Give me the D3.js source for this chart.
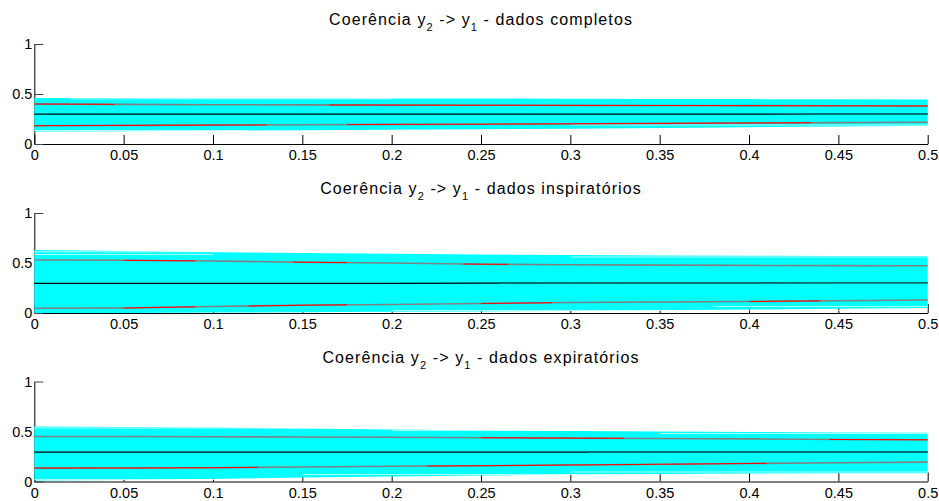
<!DOCTYPE html>
<html>
<head>
<meta charset="utf-8">
<script src="https://cdn.jsdelivr.net/npm/d3@7"></script>
<style>
  body { margin: 0; background: #fff; }
  svg { display: block; }
  text { font-family: "Liberation Sans", Arial, Helvetica, sans-serif; fill: #000; }
</style>
</head>
<body>
<svg id="chart" width="939" height="501"></svg>
<script>
// Normalised frequency grid
const freq = [0, 0.05, 0.1, 0.15, 0.2, 0.25, 0.3, 0.35, 0.4, 0.45, 0.5];

const xTicks = [0, 0.05, 0.1, 0.15, 0.2, 0.25, 0.3, 0.35, 0.4, 0.45, 0.5];
const xTickLabels = ["0", "0.05", "0.1", "0.15", "0.2", "0.25", "0.3", "0.35", "0.4", "0.45", "0.5"];
const yTicks = [0, 0.5, 1];
const yTickLabels = ["0", "0.5", "1"];

const titleSuffix = ["dados completos", "dados inspiratórios", "dados expiratórios"];

// --- complete data: envelope of bootstrap curves, percentile bounds, mean
const bandTop1 = [0.460, 0.460, 0.458, 0.457, 0.456, 0.455, 0.453, 0.451, 0.449, 0.447, 0.446];
const bandBot1 = [0.125, 0.128, 0.132, 0.137, 0.142, 0.147, 0.153, 0.160, 0.168, 0.175, 0.182];
const upper1   = [0.400, 0.396, 0.393, 0.391, 0.389, 0.388, 0.386, 0.385, 0.384, 0.382, 0.380];
const mean1    = [0.298, 0.298, 0.298, 0.298, 0.298, 0.298, 0.298, 0.298, 0.299, 0.300, 0.300];
const lower1   = [0.183, 0.186, 0.189, 0.192, 0.196, 0.198, 0.202, 0.206, 0.210, 0.214, 0.217];
// frequency intervals where the bounds are flagged (drawn red)
const redUp1 = [[0, 0.045], [0.165, 0.5]];
const redLo1 = [[0, 0.13], [0.175, 0.435]];
const teal1  = [[0.435, 0.5]];

// --- inspiratory data
const bandTop2 = [0.630, 0.620, 0.610, 0.600, 0.592, 0.585, 0.580, 0.576, 0.573, 0.571, 0.570];
const bandBot2 = [0.000, 0.000, 0.004, 0.008, 0.012, 0.015, 0.020, 0.027, 0.035, 0.043, 0.050];
const upper2   = [0.530, 0.527, 0.520, 0.508, 0.500, 0.488, 0.482, 0.479, 0.476, 0.474, 0.473];
const mean2    = [0.297, 0.297, 0.297, 0.297, 0.297, 0.298, 0.300, 0.301, 0.302, 0.303, 0.303];
const lower2   = [0.047, 0.050, 0.065, 0.078, 0.085, 0.095, 0.105, 0.110, 0.115, 0.123, 0.130];
const redUp2 = [[0.05, 0.09], [0.145, 0.175], [0.24, 0.265]];
const redLo2 = [[0.05, 0.09], [0.12, 0.175], [0.25, 0.29], [0.40, 0.44]];
const teal2  = [[0.26, 0.5]];

// --- expiratory data
const bandTop3 = [0.550, 0.545, 0.540, 0.530, 0.520, 0.512, 0.505, 0.500, 0.495, 0.490, 0.487];
const bandBot3 = [0.010, 0.015, 0.025, 0.040, 0.050, 0.060, 0.070, 0.075, 0.080, 0.082, 0.083];
const upper3   = [0.450, 0.450, 0.448, 0.445, 0.442, 0.438, 0.434, 0.430, 0.426, 0.420, 0.417];
const mean3    = [0.294, 0.294, 0.294, 0.294, 0.294, 0.294, 0.294, 0.294, 0.294, 0.294, 0.294];
const lower3   = [0.134, 0.135, 0.138, 0.145, 0.152, 0.158, 0.165, 0.172, 0.180, 0.188, 0.194];
const redUp3 = [[0.25, 0.33], [0.445, 0.5]];
const redLo3 = [[0, 0.125], [0.22, 0.41]];
const teal3  = [[0.31, 0.5]];

// gaps between individual resampled curves near the band edges (freq from, freq to, level)
const gaps1 = [[0, 0.12, 0.135], [0.02, 0.2, 0.452], [0.3, 0.5, 0.19]];
const gaps2 = [[0, 0.17, 0.612], [0.0, 0.1, 0.585], [0.2, 0.5, 0.025], [0.38, 0.5, 0.065], [0.3, 0.5, 0.56]];
const gaps3 = [[0, 0.2, 0.535], [0, 0.15, 0.02], [0.15, 0.35, 0.07], [0.3, 0.5, 0.095], [0.2, 0.45, 0.51], [0.35, 0.5, 0.48]];

const panels = [
  { top: bandTop1, bot: bandBot1, upper: upper1, mean: mean1, lower: lower1, redUp: redUp1, redLo: redLo1, teal: teal1, gaps: gaps1 },
  { top: bandTop2, bot: bandBot2, upper: upper2, mean: mean2, lower: lower2, redUp: redUp2, redLo: redLo2, teal: teal2, gaps: gaps2 },
  { top: bandTop3, bot: bandBot3, upper: upper3, mean: mean3, lower: lower3, redUp: redUp3, redLo: redLo3, teal: teal3, gaps: gaps3 }
];

const svg = d3.select("#chart");
const left = 34.3, right = 927.7, plotH = 100;
const panelTop = [44, 213, 381.5];
const tickLen = 9;

const x = d3.scaleLinear().domain([0, 0.5]).range([left, right]);
const defs = svg.append("defs");

panels.forEach((p, i) => {
  const top = panelTop[i];
  const y = d3.scaleLinear().domain([0, 1]).range([top + plotH, top]);
  const g = svg.append("g");

  // axes lie beneath the data
  const xAxis = d3.axisBottom(x).tickValues(xTicks)
    .tickFormat((d, k) => xTickLabels[k]).tickSizeInner(-tickLen).tickSizeOuter(0).tickPadding(12);
  const gx = g.append("g").attr("transform", `translate(0,${top + plotH})`).call(xAxis);
  gx.select(".domain").attr("stroke", "#000");
  gx.selectAll(".tick line").attr("stroke", "#000");
  gx.selectAll(".tick text").attr("font-size", 14.5).attr("dy", "0.3em");

  const yAxis = d3.axisLeft(y).tickValues(yTicks)
    .tickFormat((d, k) => yTickLabels[k]).tickSizeInner(-tickLen).tickSizeOuter(0).tickPadding(12);
  const gy = g.append("g").attr("transform", `translate(${left},0)`).call(yAxis);
  gy.select(".domain").attr("stroke", "#000");
  gy.selectAll(".tick line").attr("stroke", "#444");
  gy.selectAll(".tick text").attr("font-size", 14.5).attr("x", -2);

  // cyan envelope of the resampled coherence curves
  const area = d3.area().x((d, k) => x(freq[k])).y0((d, k) => y(p.bot[k])).y1(d => y(d));
  g.append("path").attr("d", area(p.top)).attr("fill", "#00ffff");

  // thin gaps between neighbouring curves
  g.selectAll(".gap").data(p.gaps).join("line")
    .attr("x1", d => x(d[0])).attr("x2", d => x(d[1]))
    .attr("y1", d => y(d[2])).attr("y2", d => y(d[2]))
    .attr("stroke", "#ffffff").attr("stroke-width", 0.8).attr("stroke-opacity", 0.85);

  const line = d3.line().x((d, k) => x(freq[k])).y(d => y(d));

  // clip helper: only keep the given frequency intervals
  const clipFor = (name, intervals) => {
    const id = `clip-${name}-${i}`;
    defs.append("clipPath").attr("id", id).selectAll("rect").data(intervals).join("rect")
      .attr("x", d => x(d[0])).attr("width", d => x(d[1]) - x(d[0]))
      .attr("y", top - 5).attr("height", plotH + 10);
    return `url(#${id})`;
  };

  // percentile bounds in grey, flagged stretches in red
  g.append("path").attr("d", line(p.upper)).attr("fill", "none").attr("stroke", "#808080").attr("stroke-width", 1.6);
  g.append("path").attr("d", line(p.lower)).attr("fill", "none").attr("stroke", "#808080").attr("stroke-width", 1.6);
  g.append("path").attr("d", line(p.upper)).attr("fill", "none").attr("stroke", "#ff0000").attr("stroke-width", 1)
    .attr("clip-path", clipFor("up", p.redUp));
  g.append("path").attr("d", line(p.lower)).attr("fill", "none").attr("stroke", "#ff0000").attr("stroke-width", 1)
    .attr("clip-path", clipFor("lo", p.redLo));

  // mean curve
  g.append("path").attr("d", line(p.mean)).attr("fill", "none").attr("stroke", "#000").attr("stroke-width", 1.2);
  g.append("path").attr("d", line(p.mean)).attr("fill", "none").attr("stroke", "#0a6e6e").attr("stroke-width", 1.6)
    .attr("clip-path", clipFor("mean", p.teal));

  // title with subscripts
  const t = svg.append("text").attr("x", (left + right) / 2).attr("y", top - 19)
    .attr("text-anchor", "middle").attr("font-size", 16).attr("letter-spacing", 1.1);
  t.append("tspan").text("Coerência y");
  t.append("tspan").attr("font-size", 11).attr("dy", 6).text("2");
  t.append("tspan").attr("dy", -6).text(" -> y");
  t.append("tspan").attr("font-size", 11).attr("dy", 6).text("1");
  t.append("tspan").attr("dy", -6).text(" - " + titleSuffix[i]);
});
</script>
</body>
</html>
